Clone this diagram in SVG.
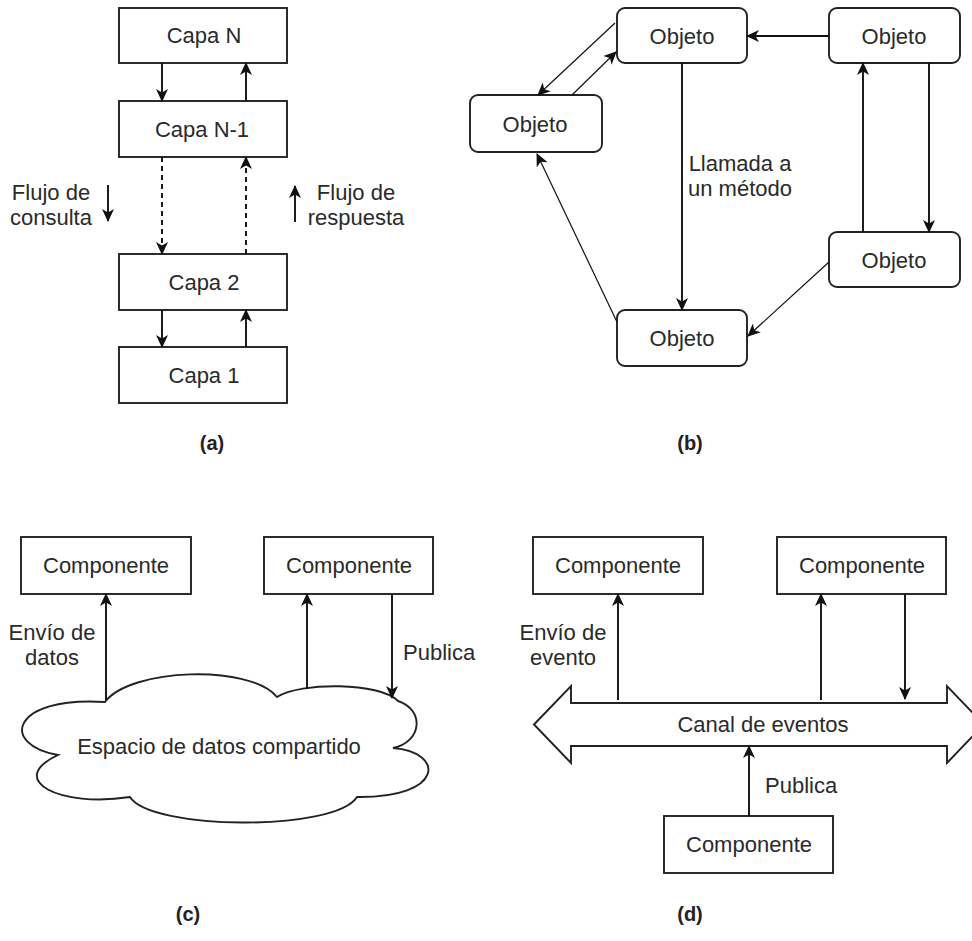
<svg xmlns="http://www.w3.org/2000/svg" width="972" height="941" viewBox="0 0 972 941">
<defs>
<style>
.box{fill:#fff;stroke:#222;stroke-width:1.9}
.t{font-family:"Liberation Sans",Arial,sans-serif;font-size:22px;fill:#2a2a2a}
.tm{text-anchor:middle}
.lbl{font-family:"Liberation Sans",Arial,sans-serif;font-size:20px;font-weight:bold;fill:#222;text-anchor:middle}
.ln{fill:none;stroke:#111;stroke-width:1.9}
.thin{fill:none;stroke:#111;stroke-width:1.2}
.dash{stroke-dasharray:5 4}
</style>
<marker id="ah" markerUnits="userSpaceOnUse" viewBox="0 0 13 12" markerWidth="13" markerHeight="12" refX="12" refY="6" orient="auto">
<path d="M0,0 L13,6 L0,12 L3.5,6 Z" fill="#111"/>
</marker>
</defs>
<rect width="972" height="941" fill="#fff"/>

<!-- Panel (a) -->
<g id="capaN"><rect class="box" x="119" y="8" width="168" height="55"/><text class="t tm" x="204" y="43">Capa N</text></g>
<g id="capaN1"><rect class="box" x="119" y="101" width="168" height="56"/><text class="t tm" x="202" y="137">Capa N-1</text></g>
<g id="capa2"><rect class="box" x="119" y="254" width="168" height="56"/><text class="t tm" x="204" y="290">Capa 2</text></g>
<g id="capa1"><rect class="box" x="119" y="347" width="168" height="56"/><text class="t tm" x="204" y="383">Capa 1</text></g>
<g id="flujoConsulta"><text class="t tm" x="51" y="200">Flujo de</text><text class="t tm" x="51" y="225">consulta</text></g>
<g id="flujoRespuesta"><text class="t tm" x="356" y="200">Flujo de</text><text class="t tm" x="356" y="225">respuesta</text></g>
<g id="labelA"><text class="lbl" x="212" y="450">(a)</text></g>

<!-- Panel (b) -->
<g id="objTop"><rect class="box" x="617" y="8" width="130" height="55" rx="8"/><text class="t tm" x="682" y="44">Objeto</text></g>
<g id="objTopRight"><rect class="box" x="829" y="8" width="131" height="55" rx="8"/><text class="t tm" x="894" y="44">Objeto</text></g>
<g id="objLeft"><rect class="box" x="470" y="95" width="132" height="57" rx="8"/><text class="t tm" x="535" y="132">Objeto</text></g>
<g id="objRight"><rect class="box" x="829" y="232" width="131" height="55" rx="8"/><text class="t tm" x="894" y="268">Objeto</text></g>
<g id="objBottom"><rect class="box" x="617" y="310" width="130" height="56" rx="8"/><text class="t tm" x="682" y="346">Objeto</text></g>
<g id="llamada"><text class="t tm" x="740" y="171">Llamada a</text><text class="t tm" x="740" y="196">un método</text></g>
<g id="labelB"><text class="lbl" x="690" y="450">(b)</text></g>

<!-- Panel (c) -->
<g id="compC1"><rect class="box" x="21" y="537" width="170" height="57"/><text class="t tm" x="106" y="573">Componente</text></g>
<g id="compC2"><rect class="box" x="264" y="537" width="169" height="57"/><text class="t tm" x="349" y="573">Componente</text></g>
<g id="cloud">
<path class="box" d="M105,702 C130,668 250,664 277,697 C300,682 380,682 398,701 C425,710 422,742 393,748 C445,752 445,798 357,797 C335,832 150,830 130,797 C60,808 5,780 58,755 C0,745 10,696 105,702 Z"/>
<text class="t tm" x="219" y="754">Espacio de datos compartido</text>
</g>
<g id="envioDatos"><text class="t tm" x="52" y="640">Envío de</text><text class="t tm" x="52" y="665">datos</text></g>
<g id="publicaC"><text class="t" x="403" y="660">Publica</text></g>
<g id="labelC"><text class="lbl" x="188" y="921">(c)</text></g>

<!-- Panel (d) -->
<g id="compD1"><rect class="box" x="533" y="537" width="170" height="57"/><text class="t tm" x="618" y="573">Componente</text></g>
<g id="compD2"><rect class="box" x="777" y="537" width="169" height="57"/><text class="t tm" x="862" y="573">Componente</text></g>
<g id="compD3"><rect class="box" x="664" y="816" width="169" height="57"/><text class="t tm" x="749" y="852">Componente</text></g>
<g id="canal">
<path class="box" d="M534,724.5 L571,686 L571,703 L947,703 L947,686 L984,724.5 L947,763 L947,746 L571,746 L571,763 Z"/>
<text class="t tm" x="763" y="732">Canal de eventos</text>
</g>
<g id="envioEvento"><text class="t tm" x="563" y="640">Envío de</text><text class="t tm" x="563" y="665">evento</text></g>
<g id="publicaD"><text class="t" x="765" y="793">Publica</text></g>
<g id="labelD"><text class="lbl" x="690" y="921">(d)</text></g>

<!-- Connectors -->
<g id="connectors">
<line class="ln" x1="162" y1="63" x2="162" y2="101" marker-end="url(#ah)"/>
<line class="ln" x1="246" y1="101" x2="246" y2="63" marker-end="url(#ah)"/>
<line class="ln dash" x1="162" y1="157" x2="162" y2="254" marker-end="url(#ah)"/>
<line class="ln dash" x1="246" y1="254" x2="246" y2="157" marker-end="url(#ah)"/>
<line class="ln" x1="162" y1="310" x2="162" y2="347" marker-end="url(#ah)"/>
<line class="ln" x1="246" y1="347" x2="246" y2="310" marker-end="url(#ah)"/>
<line class="ln" x1="108" y1="185" x2="108" y2="221" marker-end="url(#ah)"/>
<line class="ln" x1="295" y1="222" x2="295" y2="186" marker-end="url(#ah)"/>

<line class="ln" x1="829" y1="36" x2="747" y2="36" marker-end="url(#ah)"/>
<line class="ln" x1="682" y1="63" x2="682" y2="310" marker-end="url(#ah)"/>
<line class="ln" x1="929" y1="63" x2="929" y2="232" marker-end="url(#ah)"/>
<line class="ln" x1="863" y1="232" x2="863" y2="63" marker-end="url(#ah)"/>
<line class="thin" x1="829" y1="262" x2="748" y2="336" marker-end="url(#ah)"/>
<line class="thin" x1="617" y1="322" x2="537" y2="154" marker-end="url(#ah)"/>
<line class="thin" x1="615" y1="23" x2="538" y2="95" marker-end="url(#ah)"/>
<line class="thin" x1="572" y1="95" x2="616" y2="52" marker-end="url(#ah)"/>

<line class="ln" x1="106" y1="700" x2="106" y2="594" marker-end="url(#ah)"/>
<line class="ln" x1="307" y1="689" x2="307" y2="594" marker-end="url(#ah)"/>
<line class="ln" x1="392" y1="594" x2="392" y2="698" marker-end="url(#ah)"/>

<line class="ln" x1="618" y1="700" x2="618" y2="594" marker-end="url(#ah)"/>
<line class="ln" x1="821" y1="700" x2="821" y2="594" marker-end="url(#ah)"/>
<line class="ln" x1="905" y1="594" x2="905" y2="699" marker-end="url(#ah)"/>
<line class="ln" x1="749" y1="816" x2="749" y2="746" marker-end="url(#ah)"/>
</g>
</svg>
